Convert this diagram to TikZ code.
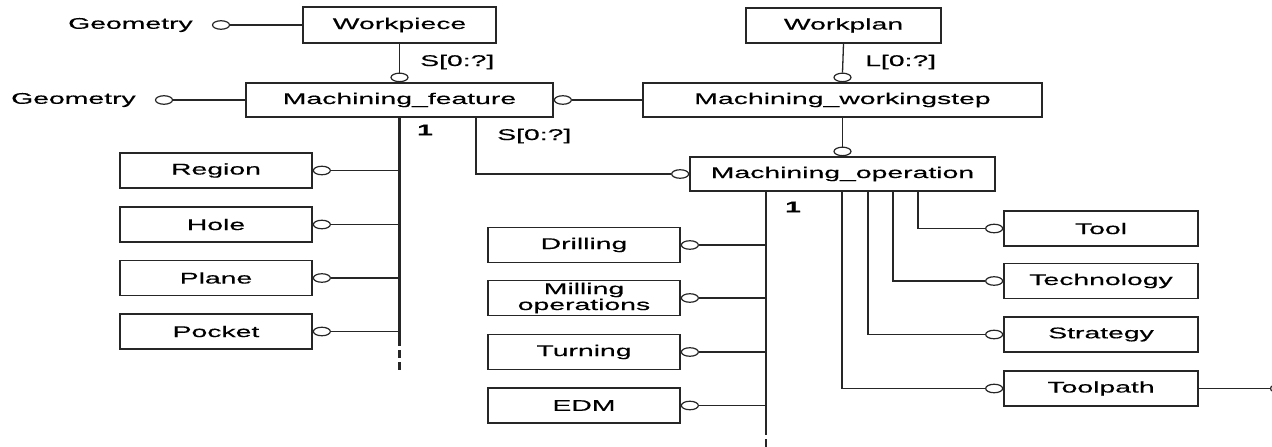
\documentclass[tikz,border=0pt]{standalone}
\usepackage{fontspec}
\setmainfont{Liberation Sans}
\newfontfamily\widesans[FakeStretch=1.83,FakeBold=0.4]{Liberation Sans}
\usetikzlibrary{shapes.geometric}

\begin{document}
\begin{tikzpicture}[x=1pt,y=-1pt,
  ink/.style={draw=black!85},
  txt/.style={font=\widesans\fontsize{15.5}{16}\selectfont},
  box/.style={ink, txt, line width=1.5pt, minimum height=35pt, inner sep=0pt, align=center},
  ring/.style={ellipse, ink, line width=1.2pt, minimum width=17pt, minimum height=8.5pt, inner sep=0pt, fill=white},
  link/.style={ink, line width=1.3pt},
  trunk/.style={ink, line width=2.8pt},
  tail/.style={ink, line width=2.8pt, dash pattern=on 8pt off 4pt},
  lbl/.style={txt, inner sep=0pt},
  card/.style={txt, font=\widesans\bfseries\fontsize{15.5}{16}\selectfont, inner sep=0pt},
]
\useasboundingbox (0,0) rectangle (1272,447);
\clip (0,0) rectangle (1272,447);

% --- main entities ---
\node[box, minimum width=193pt, minimum height=36pt] (wp) at (399.5,25) {Workpiece};
\node[box, minimum width=195pt, minimum height=35pt] (wpl) at (843.5,25.5) {Workplan};
\node[box, minimum width=307pt, minimum height=34pt] (mf) at (399.5,100) {Machining\_feature};
\node[box, minimum width=399pt, minimum height=34pt] (mws) at (842.5,100) {Machining\_workingstep};
\node[box, minimum width=305pt, minimum height=34pt] (mop) at (842.5,174) {Machining\_operation};

% --- geometry attributes ---
\node[ring] (g1r) at (221,25) {};
\node[lbl, anchor=east] (g1) at ([xshift=-19pt]g1r.west) {Geometry};
\draw[link] (g1r.east) -- (g1r.east -| wp.west);
\node[ring] (g2r) at (164,100) {};
\node[lbl, anchor=east] (g2) at ([xshift=-19pt]g2r.west) {Geometry};
\draw[link] (g2r.east) -- (g2r.east -| mf.west);

% --- workpiece -> features ---
\node[ring, anchor=south] (mfr) at (mf.north) {};
\draw[link] (wp.south) -- (mfr.north);
\node[lbl, anchor=west] (s1) at (420,62) {S[0:?]};

% --- workplan -> workingsteps ---
\node[ring, anchor=south] (mwsr) at (mws.north) {};
\draw[link] (wpl.south) -- (mwsr.north);
\node[lbl, anchor=west] (l1) at (865,62) {L[0:?]};

% --- workingstep -> feature, operation ---
\node[ring, anchor=west] (mfe) at (mf.east) {};
\draw[link] (mfe.east) -- (mws.west);
\node[ring, anchor=south] (mopr) at (mop.north) {};
\draw[link] (mws.south) -- (mopr.north);

% --- operation -> feature ---
\node[ring, anchor=east] (mopw) at (mop.west) {};
\coordinate (bend) at (476,174);
\draw[link] (mf.south -| bend) -- (bend) -- (mopw.west);
\node[lbl, anchor=west] (s2) at (497,136) {S[0:?]};

% --- feature subtypes ---
\coordinate (mfend) at (399.5,338);
\coordinate (mfstop) at (399.5,372);
\draw[trunk] (mf.south) -- (mfend);
\draw[tail] (mfend) -- (mfstop);
\node[card, anchor=west] (n1) at (417,130) {1};
\foreach \nm/\lab/\yy in {reg/Region/170.5, hol/Hole/224.5, pla/Plane/278, poc/Pocket/331.5}{
  \node[box, minimum width=192pt] (\nm) at (216,\yy) {\lab};
  \node[ring, anchor=west] (\nm r) at (\nm.east) {};
  \draw[link] (\nm r.east) -- (\nm r.east -| mfend);
}

% --- operation subtypes ---
\coordinate (opx) at (766,0);
\coordinate (opend) at (766,427);
\coordinate (opstop) at (766,447);
\draw[trunk] (mop.south -| opx) -- (opend);
\draw[tail] (opend) -- (opstop);
\node[card, anchor=west] (n2) at (785,207) {1};
\foreach \nm/\lab/\yy in {dri/Drilling/245, mil/{Milling\\operations}/298, tur/Turning/352, edm/EDM/405.5}{
  \node[box, minimum width=192pt] (\nm) at (584,\yy) {\lab};
  \node[ring, anchor=west] (\nm r) at (\nm.east) {};
  \draw[link] (\nm r.east) -- (\nm r.east -| opx);
}

% --- operation attributes ---
\foreach \nm/\lab/\yy/\xx in {too/Tool/228.5/918, tec/Technology/281/893, str/Strategy/334.5/868, tph/Toolpath/388.5/842}{
  \node[box, minimum width=194pt] (\nm) at (1101,\yy) {\lab};
  \node[ring, anchor=east] (\nm r) at (\nm.west) {};
  \coordinate (\nm x) at (\xx,0);
  \draw[link] (mop.south -| \nm x) |- (\nm r.west);
}
\node[ring] (tphe) at (1279,388.5) {};
\draw[link] (tph.east) -- (tphe.west);
\end{tikzpicture}
\end{document}
